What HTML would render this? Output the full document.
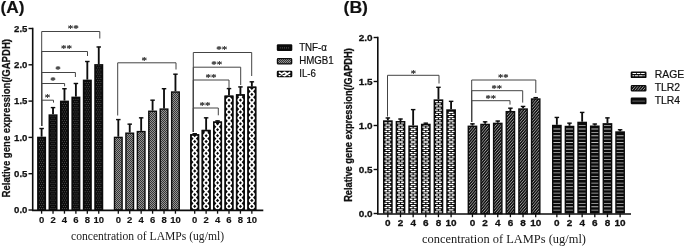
<!DOCTYPE html>
<html><head><meta charset="utf-8"><title>Figure</title>
<style>html,body{margin:0;padding:0;background:#fff}svg{display:block}</style></head>
<body><svg width="685" height="246" viewBox="0 0 685 246"><defs><pattern id="pTNF" x="37.10" y="210.00" width="11.43" height="4.2" patternUnits="userSpaceOnUse"><rect width="11.43" height="4.2" fill="#0b0b0b"/><rect x="1.95" y="0.5" width="0.9" height="0.9" fill="#6e6e6e"/><rect x="4.05" y="0.5" width="0.9" height="0.9" fill="#6e6e6e"/><rect x="6.15" y="0.5" width="0.9" height="0.9" fill="#6e6e6e"/><rect x="3.00" y="2.6" width="0.9" height="0.9" fill="#6e6e6e"/><rect x="5.10" y="2.6" width="0.9" height="0.9" fill="#6e6e6e"/></pattern>
<pattern id="pHMG" x="113.80" y="210.00" width="2" height="2" patternUnits="userSpaceOnUse"><rect width="2" height="2" fill="#b4b4b4"/><rect x="0" y="0" width="1" height="1" fill="#161616"/><rect x="1" y="1" width="1" height="1" fill="#161616"/></pattern>
<pattern id="pIL6" x="190.20" y="100.20" width="11.43" height="5.9" patternUnits="userSpaceOnUse"><rect width="11.43" height="5.9" fill="#0b0b0b"/><path d="M1.20 -0.30 L7.80 6.20 M7.80 -0.30 L1.20 6.20" stroke="#fff" stroke-width="1.9" fill="none"/><rect x="0" y="0" width="1.60" height="5.9" fill="#0b0b0b"/><rect x="7.40" y="0" width="4.5" height="5.9" fill="#0b0b0b"/></pattern>
<pattern id="pRAGE" x="383.00" y="212.60" width="12.65" height="8.3" patternUnits="userSpaceOnUse"><rect width="12.65" height="8.3" fill="#0b0b0b"/><rect x="2.85" y="0.40" width="4.0" height="1.3" fill="#fff"/><rect x="1.55" y="2.48" width="2.7" height="1.3" fill="#fff"/><rect x="5.45" y="2.48" width="2.7" height="1.3" fill="#fff"/><rect x="1.55" y="4.55" width="2.7" height="1.3" fill="#fff"/><rect x="5.45" y="4.55" width="2.7" height="1.3" fill="#fff"/><rect x="1.55" y="6.63" width="2.7" height="1.3" fill="#fff"/><rect x="5.45" y="6.63" width="2.7" height="1.3" fill="#fff"/><rect x="3.85" y="4.25" width="2.0" height="1.9" fill="#b0b0b0"/></pattern>
<pattern id="pTLR2" width="2.1" height="2.1" patternUnits="userSpaceOnUse" patternTransform="rotate(-50)"><rect width="2.1" height="2.1" fill="#0b0b0b"/><rect x="0" y="0" width="2.1" height="0.8" fill="#9c9c9c"/></pattern>
<pattern id="pTLR4" x="552.00" y="186.50" width="12.65" height="3.38" patternUnits="userSpaceOnUse"><rect width="12.65" height="3.38" fill="#0b0b0b"/><rect x="1.45" y="0" width="6.8" height="0.7" fill="#a8a8a8"/></pattern></defs>
<path d="M41.60 136.70 V128.21" stroke="#0d0d0d" stroke-width="1.85" fill="none"/><path d="M39.35 128.51 H43.85" stroke="#0d0d0d" stroke-width="1.4" fill="none"/>
<rect x="37.10" y="136.70" width="9.00" height="73.30" fill="#0b0b0b"/>
<path d="M39.50 209.00 V138.10" stroke="#5c5c5c" stroke-width="0.9" stroke-dasharray="0.9 3.3000000000000003" stroke-dashoffset="0.00" fill="none"/>
<path d="M41.60 209.00 V138.10" stroke="#5c5c5c" stroke-width="0.9" stroke-dasharray="0.9 3.3000000000000003" stroke-dashoffset="0.00" fill="none"/>
<path d="M43.70 209.00 V138.10" stroke="#5c5c5c" stroke-width="0.9" stroke-dasharray="0.9 3.3000000000000003" stroke-dashoffset="0.00" fill="none"/>
<path d="M40.55 206.90 V138.10" stroke="#5c5c5c" stroke-width="0.9" stroke-dasharray="0.9 3.3000000000000003" stroke-dashoffset="0.00" fill="none"/>
<path d="M42.65 206.90 V138.10" stroke="#5c5c5c" stroke-width="0.9" stroke-dasharray="0.9 3.3000000000000003" stroke-dashoffset="0.00" fill="none"/>
<path d="M41.60 210.00 V213.70" stroke="#0d0d0d" stroke-width="1.3"/>
<text transform="translate(41.60,222.9) scale(1,1)" font-size="9.5" font-weight="bold" font-family="Liberation Sans, Arial, sans-serif" text-anchor="middle" fill="#111" stroke="#111" stroke-width="0.15">0</text>
<path d="M53.03 114.34 V107.30" stroke="#0d0d0d" stroke-width="1.85" fill="none"/><path d="M50.78 107.60 H55.28" stroke="#0d0d0d" stroke-width="1.4" fill="none"/>
<rect x="48.53" y="114.34" width="9.00" height="95.66" fill="#0b0b0b"/>
<path d="M50.93 209.00 V115.74" stroke="#5c5c5c" stroke-width="0.9" stroke-dasharray="0.9 3.3000000000000003" stroke-dashoffset="0.00" fill="none"/>
<path d="M53.03 209.00 V115.74" stroke="#5c5c5c" stroke-width="0.9" stroke-dasharray="0.9 3.3000000000000003" stroke-dashoffset="0.00" fill="none"/>
<path d="M55.13 209.00 V115.74" stroke="#5c5c5c" stroke-width="0.9" stroke-dasharray="0.9 3.3000000000000003" stroke-dashoffset="0.00" fill="none"/>
<path d="M51.98 206.90 V115.74" stroke="#5c5c5c" stroke-width="0.9" stroke-dasharray="0.9 3.3000000000000003" stroke-dashoffset="0.00" fill="none"/>
<path d="M54.08 206.90 V115.74" stroke="#5c5c5c" stroke-width="0.9" stroke-dasharray="0.9 3.3000000000000003" stroke-dashoffset="0.00" fill="none"/>
<path d="M53.03 210.00 V213.70" stroke="#0d0d0d" stroke-width="1.3"/>
<text transform="translate(53.03,222.9) scale(1,1)" font-size="9.5" font-weight="bold" font-family="Liberation Sans, Arial, sans-serif" text-anchor="middle" fill="#111" stroke="#111" stroke-width="0.15">2</text>
<path d="M64.46 100.62 V88.42" stroke="#0d0d0d" stroke-width="1.85" fill="none"/><path d="M62.21 88.72 H66.71" stroke="#0d0d0d" stroke-width="1.4" fill="none"/>
<rect x="59.96" y="100.62" width="9.00" height="109.38" fill="#0b0b0b"/>
<path d="M62.36 209.00 V102.02" stroke="#5c5c5c" stroke-width="0.9" stroke-dasharray="0.9 3.3000000000000003" stroke-dashoffset="0.00" fill="none"/>
<path d="M64.46 209.00 V102.02" stroke="#5c5c5c" stroke-width="0.9" stroke-dasharray="0.9 3.3000000000000003" stroke-dashoffset="0.00" fill="none"/>
<path d="M66.56 209.00 V102.02" stroke="#5c5c5c" stroke-width="0.9" stroke-dasharray="0.9 3.3000000000000003" stroke-dashoffset="0.00" fill="none"/>
<path d="M63.41 206.90 V102.02" stroke="#5c5c5c" stroke-width="0.9" stroke-dasharray="0.9 3.3000000000000003" stroke-dashoffset="0.00" fill="none"/>
<path d="M65.51 206.90 V102.02" stroke="#5c5c5c" stroke-width="0.9" stroke-dasharray="0.9 3.3000000000000003" stroke-dashoffset="0.00" fill="none"/>
<path d="M64.46 210.00 V213.70" stroke="#0d0d0d" stroke-width="1.3"/>
<text transform="translate(64.46,222.9) scale(1,1)" font-size="9.5" font-weight="bold" font-family="Liberation Sans, Arial, sans-serif" text-anchor="middle" fill="#111" stroke="#111" stroke-width="0.15">4</text>
<path d="M75.89 96.62 V83.19" stroke="#0d0d0d" stroke-width="1.85" fill="none"/><path d="M73.64 83.49 H78.14" stroke="#0d0d0d" stroke-width="1.4" fill="none"/>
<rect x="71.39" y="96.62" width="9.00" height="113.38" fill="#0b0b0b"/>
<path d="M73.79 209.00 V98.02" stroke="#5c5c5c" stroke-width="0.9" stroke-dasharray="0.9 3.3000000000000003" stroke-dashoffset="0.00" fill="none"/>
<path d="M75.89 209.00 V98.02" stroke="#5c5c5c" stroke-width="0.9" stroke-dasharray="0.9 3.3000000000000003" stroke-dashoffset="0.00" fill="none"/>
<path d="M77.99 209.00 V98.02" stroke="#5c5c5c" stroke-width="0.9" stroke-dasharray="0.9 3.3000000000000003" stroke-dashoffset="0.00" fill="none"/>
<path d="M74.84 206.90 V98.02" stroke="#5c5c5c" stroke-width="0.9" stroke-dasharray="0.9 3.3000000000000003" stroke-dashoffset="0.00" fill="none"/>
<path d="M76.94 206.90 V98.02" stroke="#5c5c5c" stroke-width="0.9" stroke-dasharray="0.9 3.3000000000000003" stroke-dashoffset="0.00" fill="none"/>
<path d="M75.89 210.00 V213.70" stroke="#0d0d0d" stroke-width="1.3"/>
<text transform="translate(75.89,222.9) scale(1,1)" font-size="9.5" font-weight="bold" font-family="Liberation Sans, Arial, sans-serif" text-anchor="middle" fill="#111" stroke="#111" stroke-width="0.15">6</text>
<path d="M87.32 79.64 V61.20" stroke="#0d0d0d" stroke-width="1.85" fill="none"/><path d="M85.07 61.50 H89.57" stroke="#0d0d0d" stroke-width="1.4" fill="none"/>
<rect x="82.82" y="79.64" width="9.00" height="130.36" fill="#0b0b0b"/>
<path d="M85.22 209.00 V81.04" stroke="#5c5c5c" stroke-width="0.9" stroke-dasharray="0.9 3.3000000000000003" stroke-dashoffset="0.00" fill="none"/>
<path d="M87.32 209.00 V81.04" stroke="#5c5c5c" stroke-width="0.9" stroke-dasharray="0.9 3.3000000000000003" stroke-dashoffset="0.00" fill="none"/>
<path d="M89.42 209.00 V81.04" stroke="#5c5c5c" stroke-width="0.9" stroke-dasharray="0.9 3.3000000000000003" stroke-dashoffset="0.00" fill="none"/>
<path d="M86.27 206.90 V81.04" stroke="#5c5c5c" stroke-width="0.9" stroke-dasharray="0.9 3.3000000000000003" stroke-dashoffset="0.00" fill="none"/>
<path d="M88.37 206.90 V81.04" stroke="#5c5c5c" stroke-width="0.9" stroke-dasharray="0.9 3.3000000000000003" stroke-dashoffset="0.00" fill="none"/>
<path d="M87.32 210.00 V213.70" stroke="#0d0d0d" stroke-width="1.3"/>
<text transform="translate(87.32,222.9) scale(1,1)" font-size="9.5" font-weight="bold" font-family="Liberation Sans, Arial, sans-serif" text-anchor="middle" fill="#111" stroke="#111" stroke-width="0.15">8</text>
<path d="M98.75 64.10 V46.68" stroke="#0d0d0d" stroke-width="1.85" fill="none"/><path d="M96.50 46.98 H101.00" stroke="#0d0d0d" stroke-width="1.4" fill="none"/>
<rect x="94.25" y="64.10" width="9.00" height="145.90" fill="#0b0b0b"/>
<path d="M96.65 209.00 V65.50" stroke="#5c5c5c" stroke-width="0.9" stroke-dasharray="0.9 3.3000000000000003" stroke-dashoffset="0.00" fill="none"/>
<path d="M98.75 209.00 V65.50" stroke="#5c5c5c" stroke-width="0.9" stroke-dasharray="0.9 3.3000000000000003" stroke-dashoffset="0.00" fill="none"/>
<path d="M100.85 209.00 V65.50" stroke="#5c5c5c" stroke-width="0.9" stroke-dasharray="0.9 3.3000000000000003" stroke-dashoffset="0.00" fill="none"/>
<path d="M97.70 206.90 V65.50" stroke="#5c5c5c" stroke-width="0.9" stroke-dasharray="0.9 3.3000000000000003" stroke-dashoffset="0.00" fill="none"/>
<path d="M99.80 206.90 V65.50" stroke="#5c5c5c" stroke-width="0.9" stroke-dasharray="0.9 3.3000000000000003" stroke-dashoffset="0.00" fill="none"/>
<path d="M98.75 210.00 V213.70" stroke="#0d0d0d" stroke-width="1.3"/>
<text transform="translate(98.75,222.9) scale(1,1)" font-size="9.5" font-weight="bold" font-family="Liberation Sans, Arial, sans-serif" text-anchor="middle" fill="#111" stroke="#111" stroke-width="0.15">10</text>
<path d="M41.70 126.00 V31.50 H99.80 V38.50" stroke="#444" stroke-width="1" fill="none"/>
<text x="73.20" y="32.30" font-size="11" font-weight="normal" font-family="Liberation Serif, Times New Roman, serif" text-anchor="middle" fill="#333" stroke="#333" stroke-width="0.25">**</text>
<path d="M41.70 126.00 V51.50 H87.50 V56.00" stroke="#444" stroke-width="1" fill="none"/>
<text x="66.50" y="52.30" font-size="11" font-weight="normal" font-family="Liberation Serif, Times New Roman, serif" text-anchor="middle" fill="#333" stroke="#333" stroke-width="0.25">**</text>
<path d="M41.70 126.00 V72.50 H75.40 V77.00" stroke="#444" stroke-width="1" fill="none"/>
<text x="58.00" y="73.30" font-size="11" font-weight="normal" font-family="Liberation Serif, Times New Roman, serif" text-anchor="middle" fill="#333" stroke="#333" stroke-width="0.25">*</text>
<path d="M41.70 126.00 V83.50 H64.60 V86.30" stroke="#444" stroke-width="1" fill="none"/>
<text x="53.00" y="84.30" font-size="11" font-weight="normal" font-family="Liberation Serif, Times New Roman, serif" text-anchor="middle" fill="#333" stroke="#333" stroke-width="0.25">*</text>
<path d="M41.70 126.00 V100.20 H53.50 V102.60" stroke="#444" stroke-width="1" fill="none"/>
<text x="47.50" y="101.00" font-size="11" font-weight="normal" font-family="Liberation Serif, Times New Roman, serif" text-anchor="middle" fill="#333" stroke="#333" stroke-width="0.25">*</text>
<path d="M118.30 136.70 V119.28" stroke="#0d0d0d" stroke-width="1.85" fill="none"/><path d="M116.05 119.58 H120.55" stroke="#0d0d0d" stroke-width="1.4" fill="none"/>
<rect x="114.50" y="137.40" width="7.60" height="72.60" fill="url(#pHMG)" stroke="#0d0d0d" stroke-width="1.4"/>
<path d="M118.30 210.00 V213.70" stroke="#0d0d0d" stroke-width="1.3"/>
<text transform="translate(118.30,222.9) scale(1,1)" font-size="9.5" font-weight="bold" font-family="Liberation Sans, Arial, sans-serif" text-anchor="middle" fill="#111" stroke="#111" stroke-width="0.15">0</text>
<path d="M129.73 132.49 V123.85" stroke="#0d0d0d" stroke-width="1.85" fill="none"/><path d="M127.48 124.15 H131.98" stroke="#0d0d0d" stroke-width="1.4" fill="none"/>
<rect x="125.93" y="133.19" width="7.60" height="76.81" fill="url(#pHMG)" stroke="#0d0d0d" stroke-width="1.4"/>
<path d="M129.73 210.00 V213.70" stroke="#0d0d0d" stroke-width="1.3"/>
<text transform="translate(129.73,222.9) scale(1,1)" font-size="9.5" font-weight="bold" font-family="Liberation Sans, Arial, sans-serif" text-anchor="middle" fill="#111" stroke="#111" stroke-width="0.15">2</text>
<path d="M141.16 130.89 V117.53" stroke="#0d0d0d" stroke-width="1.85" fill="none"/><path d="M138.91 117.83 H143.41" stroke="#0d0d0d" stroke-width="1.4" fill="none"/>
<rect x="137.36" y="131.59" width="7.60" height="78.41" fill="url(#pHMG)" stroke="#0d0d0d" stroke-width="1.4"/>
<path d="M141.16 210.00 V213.70" stroke="#0d0d0d" stroke-width="1.3"/>
<text transform="translate(141.16,222.9) scale(1,1)" font-size="9.5" font-weight="bold" font-family="Liberation Sans, Arial, sans-serif" text-anchor="middle" fill="#111" stroke="#111" stroke-width="0.15">4</text>
<path d="M152.59 110.56 V99.89" stroke="#0d0d0d" stroke-width="1.85" fill="none"/><path d="M150.34 100.19 H154.84" stroke="#0d0d0d" stroke-width="1.4" fill="none"/>
<rect x="148.79" y="111.26" width="7.60" height="98.74" fill="url(#pHMG)" stroke="#0d0d0d" stroke-width="1.4"/>
<path d="M152.59 210.00 V213.70" stroke="#0d0d0d" stroke-width="1.3"/>
<text transform="translate(152.59,222.9) scale(1,1)" font-size="9.5" font-weight="bold" font-family="Liberation Sans, Arial, sans-serif" text-anchor="middle" fill="#111" stroke="#111" stroke-width="0.15">6</text>
<path d="M164.02 108.39 V88.42" stroke="#0d0d0d" stroke-width="1.85" fill="none"/><path d="M161.77 88.72 H166.27" stroke="#0d0d0d" stroke-width="1.4" fill="none"/>
<rect x="160.22" y="109.09" width="7.60" height="100.91" fill="url(#pHMG)" stroke="#0d0d0d" stroke-width="1.4"/>
<path d="M164.02 210.00 V213.70" stroke="#0d0d0d" stroke-width="1.3"/>
<text transform="translate(164.02,222.9) scale(1,1)" font-size="9.5" font-weight="bold" font-family="Liberation Sans, Arial, sans-serif" text-anchor="middle" fill="#111" stroke="#111" stroke-width="0.15">8</text>
<path d="M175.45 91.33 V73.90" stroke="#0d0d0d" stroke-width="1.85" fill="none"/><path d="M173.20 74.20 H177.70" stroke="#0d0d0d" stroke-width="1.4" fill="none"/>
<rect x="171.65" y="92.03" width="7.60" height="117.97" fill="url(#pHMG)" stroke="#0d0d0d" stroke-width="1.4"/>
<path d="M175.45 210.00 V213.70" stroke="#0d0d0d" stroke-width="1.3"/>
<text transform="translate(175.45,222.9) scale(1,1)" font-size="9.5" font-weight="bold" font-family="Liberation Sans, Arial, sans-serif" text-anchor="middle" fill="#111" stroke="#111" stroke-width="0.15">10</text>
<path d="M117.70 115.50 V62.80 H176.00 V69.50" stroke="#444" stroke-width="1" fill="none"/>
<text x="144.30" y="63.60" font-size="11" font-weight="normal" font-family="Liberation Serif, Times New Roman, serif" text-anchor="middle" fill="#333" stroke="#333" stroke-width="0.25">*</text>
<path d="M194.70 134.23 V133.43" stroke="#0d0d0d" stroke-width="1.85" fill="none"/><path d="M192.45 133.73 H196.95" stroke="#0d0d0d" stroke-width="1.4" fill="none"/>
<rect x="190.20" y="134.23" width="9.00" height="75.77" fill="#0b0b0b"/>
<path d="M194.09 210.00 L197.45 206.40 L191.95 200.50 L197.45 194.60 L191.95 188.70 L197.45 182.80 L191.95 176.90 L197.45 171.00 L191.95 165.10 L197.45 159.20 L191.95 153.30 L197.45 147.40 L191.95 141.50 L197.42 135.63" stroke="#fff" stroke-width="1.75" stroke-linejoin="round" fill="none"/>
<path d="M195.31 210.00 L191.95 206.40 L197.45 200.50 L191.95 194.60 L197.45 188.70 L191.95 182.80 L197.45 176.90 L191.95 171.00 L197.45 165.10 L191.95 159.20 L197.45 153.30 L191.95 147.40 L197.45 141.50 L191.98 135.63" stroke="#fff" stroke-width="1.75" stroke-linejoin="round" fill="none"/>
<rect x="190.95" y="134.93" width="7.50" height="75.07" fill="none" stroke="#0b0b0b" stroke-width="1.5"/>
<path d="M194.70 210.00 V213.70" stroke="#0d0d0d" stroke-width="1.3"/>
<text transform="translate(194.70,222.9) scale(1,1)" font-size="9.5" font-weight="bold" font-family="Liberation Sans, Arial, sans-serif" text-anchor="middle" fill="#111" stroke="#111" stroke-width="0.15">0</text>
<path d="M206.13 129.88 V117.53" stroke="#0d0d0d" stroke-width="1.85" fill="none"/><path d="M203.88 117.83 H208.38" stroke="#0d0d0d" stroke-width="1.4" fill="none"/>
<rect x="201.63" y="129.88" width="9.00" height="80.12" fill="#0b0b0b"/>
<path d="M205.52 210.00 L208.88 206.40 L203.38 200.50 L208.88 194.60 L203.38 188.70 L208.88 182.80 L203.38 176.90 L208.88 171.00 L203.38 165.10 L208.88 159.20 L203.38 153.30 L208.88 147.40 L203.38 141.50 L208.88 135.60 L204.85 131.28" stroke="#fff" stroke-width="1.75" stroke-linejoin="round" fill="none"/>
<path d="M206.74 210.00 L203.38 206.40 L208.88 200.50 L203.38 194.60 L208.88 188.70 L203.38 182.80 L208.88 176.90 L203.38 171.00 L208.88 165.10 L203.38 159.20 L208.88 153.30 L203.38 147.40 L208.88 141.50 L203.38 135.60 L207.41 131.28" stroke="#fff" stroke-width="1.75" stroke-linejoin="round" fill="none"/>
<rect x="202.38" y="130.58" width="7.50" height="79.42" fill="none" stroke="#0b0b0b" stroke-width="1.5"/>
<path d="M206.13 210.00 V213.70" stroke="#0d0d0d" stroke-width="1.3"/>
<text transform="translate(206.13,222.9) scale(1,1)" font-size="9.5" font-weight="bold" font-family="Liberation Sans, Arial, sans-serif" text-anchor="middle" fill="#111" stroke="#111" stroke-width="0.15">2</text>
<path d="M217.56 121.53 V120.58" stroke="#0d0d0d" stroke-width="1.85" fill="none"/><path d="M215.31 120.88 H219.81" stroke="#0d0d0d" stroke-width="1.4" fill="none"/>
<rect x="213.06" y="121.53" width="9.00" height="88.47" fill="#0b0b0b"/>
<path d="M216.95 210.00 L220.31 206.40 L214.81 200.50 L220.31 194.60 L214.81 188.70 L220.31 182.80 L214.81 176.90 L220.31 171.00 L214.81 165.10 L220.31 159.20 L214.81 153.30 L220.31 147.40 L214.81 141.50 L220.31 135.60 L214.81 129.70 L220.31 123.80 L219.50 122.93" stroke="#fff" stroke-width="1.75" stroke-linejoin="round" fill="none"/>
<path d="M218.17 210.00 L214.81 206.40 L220.31 200.50 L214.81 194.60 L220.31 188.70 L214.81 182.80 L220.31 176.90 L214.81 171.00 L220.31 165.10 L214.81 159.20 L220.31 153.30 L214.81 147.40 L220.31 141.50 L214.81 135.60 L220.31 129.70 L214.81 123.80 L215.62 122.93" stroke="#fff" stroke-width="1.75" stroke-linejoin="round" fill="none"/>
<rect x="213.81" y="122.23" width="7.50" height="87.77" fill="none" stroke="#0b0b0b" stroke-width="1.5"/>
<path d="M217.56 210.00 V213.70" stroke="#0d0d0d" stroke-width="1.3"/>
<text transform="translate(217.56,222.9) scale(1,1)" font-size="9.5" font-weight="bold" font-family="Liberation Sans, Arial, sans-serif" text-anchor="middle" fill="#111" stroke="#111" stroke-width="0.15">4</text>
<path d="M228.99 95.61 V88.28" stroke="#0d0d0d" stroke-width="1.85" fill="none"/><path d="M226.74 88.58 H231.24" stroke="#0d0d0d" stroke-width="1.4" fill="none"/>
<rect x="224.49" y="95.61" width="9.00" height="114.39" fill="#0b0b0b"/>
<path d="M228.38 210.00 L231.74 206.40 L226.24 200.50 L231.74 194.60 L226.24 188.70 L231.74 182.80 L226.24 176.90 L231.74 171.00 L226.24 165.10 L231.74 159.20 L226.24 153.30 L231.74 147.40 L226.24 141.50 L231.74 135.60 L226.24 129.70 L231.74 123.80 L226.24 117.90 L231.74 112.00 L226.24 106.10 L231.74 100.20 L228.76 97.01" stroke="#fff" stroke-width="1.75" stroke-linejoin="round" fill="none"/>
<path d="M229.60 210.00 L226.24 206.40 L231.74 200.50 L226.24 194.60 L231.74 188.70 L226.24 182.80 L231.74 176.90 L226.24 171.00 L231.74 165.10 L226.24 159.20 L231.74 153.30 L226.24 147.40 L231.74 141.50 L226.24 135.60 L231.74 129.70 L226.24 123.80 L231.74 117.90 L226.24 112.00 L231.74 106.10 L226.24 100.20 L229.22 97.01" stroke="#fff" stroke-width="1.75" stroke-linejoin="round" fill="none"/>
<rect x="225.24" y="96.31" width="7.50" height="113.69" fill="none" stroke="#0b0b0b" stroke-width="1.5"/>
<path d="M228.99 210.00 V213.70" stroke="#0d0d0d" stroke-width="1.3"/>
<text transform="translate(228.99,222.9) scale(1,1)" font-size="9.5" font-weight="bold" font-family="Liberation Sans, Arial, sans-serif" text-anchor="middle" fill="#111" stroke="#111" stroke-width="0.15">6</text>
<path d="M240.42 94.30 V86.61" stroke="#0d0d0d" stroke-width="1.85" fill="none"/><path d="M238.17 86.91 H242.67" stroke="#0d0d0d" stroke-width="1.4" fill="none"/>
<rect x="235.92" y="94.30" width="9.00" height="115.70" fill="#0b0b0b"/>
<path d="M239.81 210.00 L243.17 206.40 L237.67 200.50 L243.17 194.60 L237.67 188.70 L243.17 182.80 L237.67 176.90 L243.17 171.00 L237.67 165.10 L243.17 159.20 L237.67 153.30 L243.17 147.40 L237.67 141.50 L243.17 135.60 L237.67 129.70 L243.17 123.80 L237.67 117.90 L243.17 112.00 L237.67 106.10 L243.17 100.20 L238.98 95.70" stroke="#fff" stroke-width="1.75" stroke-linejoin="round" fill="none"/>
<path d="M241.03 210.00 L237.67 206.40 L243.17 200.50 L237.67 194.60 L243.17 188.70 L237.67 182.80 L243.17 176.90 L237.67 171.00 L243.17 165.10 L237.67 159.20 L243.17 153.30 L237.67 147.40 L243.17 141.50 L237.67 135.60 L243.17 129.70 L237.67 123.80 L243.17 117.90 L237.67 112.00 L243.17 106.10 L237.67 100.20 L241.86 95.70" stroke="#fff" stroke-width="1.75" stroke-linejoin="round" fill="none"/>
<rect x="236.67" y="95.00" width="7.50" height="115.00" fill="none" stroke="#0b0b0b" stroke-width="1.5"/>
<path d="M240.42 210.00 V213.70" stroke="#0d0d0d" stroke-width="1.3"/>
<text transform="translate(240.42,222.9) scale(1,1)" font-size="9.5" font-weight="bold" font-family="Liberation Sans, Arial, sans-serif" text-anchor="middle" fill="#111" stroke="#111" stroke-width="0.15">8</text>
<path d="M251.85 86.61 V81.52" stroke="#0d0d0d" stroke-width="1.85" fill="none"/><path d="M249.60 81.82 H254.10" stroke="#0d0d0d" stroke-width="1.4" fill="none"/>
<rect x="247.35" y="86.61" width="9.00" height="123.39" fill="#0b0b0b"/>
<path d="M251.24 210.00 L254.60 206.40 L249.10 200.50 L254.60 194.60 L249.10 188.70 L254.60 182.80 L249.10 176.90 L254.60 171.00 L249.10 165.10 L254.60 159.20 L249.10 153.30 L254.60 147.40 L249.10 141.50 L254.60 135.60 L249.10 129.70 L254.60 123.80 L249.10 117.90 L254.60 112.00 L249.10 106.10 L254.60 100.20 L249.10 94.30 L254.60 88.40 L254.23 88.01" stroke="#fff" stroke-width="1.75" stroke-linejoin="round" fill="none"/>
<path d="M252.46 210.00 L249.10 206.40 L254.60 200.50 L249.10 194.60 L254.60 188.70 L249.10 182.80 L254.60 176.90 L249.10 171.00 L254.60 165.10 L249.10 159.20 L254.60 153.30 L249.10 147.40 L254.60 141.50 L249.10 135.60 L254.60 129.70 L249.10 123.80 L254.60 117.90 L249.10 112.00 L254.60 106.10 L249.10 100.20 L254.60 94.30 L249.10 88.40 L249.47 88.01" stroke="#fff" stroke-width="1.75" stroke-linejoin="round" fill="none"/>
<rect x="248.10" y="87.31" width="7.50" height="122.69" fill="none" stroke="#0b0b0b" stroke-width="1.5"/>
<path d="M251.85 210.00 V213.70" stroke="#0d0d0d" stroke-width="1.3"/>
<text transform="translate(251.85,222.9) scale(1,1)" font-size="9.5" font-weight="bold" font-family="Liberation Sans, Arial, sans-serif" text-anchor="middle" fill="#111" stroke="#111" stroke-width="0.15">10</text>
<path d="M193.30 132.00 V52.50 H251.70 V76.00" stroke="#444" stroke-width="1" fill="none"/>
<text x="221.70" y="53.30" font-size="11" font-weight="normal" font-family="Liberation Serif, Times New Roman, serif" text-anchor="middle" fill="#333" stroke="#333" stroke-width="0.25">**</text>
<path d="M193.30 132.00 V67.20 H240.70 V85.00" stroke="#444" stroke-width="1" fill="none"/>
<text x="216.70" y="68.00" font-size="11" font-weight="normal" font-family="Liberation Serif, Times New Roman, serif" text-anchor="middle" fill="#333" stroke="#333" stroke-width="0.25">**</text>
<path d="M193.30 132.00 V80.00 H229.00 V88.30" stroke="#444" stroke-width="1" fill="none"/>
<text x="211.00" y="80.80" font-size="11" font-weight="normal" font-family="Liberation Serif, Times New Roman, serif" text-anchor="middle" fill="#333" stroke="#333" stroke-width="0.25">**</text>
<path d="M193.30 132.00 V108.00 H218.30 V115.30" stroke="#444" stroke-width="1" fill="none"/>
<text x="205.00" y="108.80" font-size="11" font-weight="normal" font-family="Liberation Serif, Times New Roman, serif" text-anchor="middle" fill="#333" stroke="#333" stroke-width="0.25">**</text>
<path d="M32.70 27.80 V210.40 H263.30" stroke="#0d0d0d" stroke-width="1.6" fill="none"/>
<path d="M28.50 210.00 H32.70" stroke="#0d0d0d" stroke-width="1.4"/>
<text x="27.40" y="213.20" font-size="9.6" font-weight="bold" font-family="Liberation Sans, Arial, sans-serif" text-anchor="end" fill="#111" stroke="#111" stroke-width="0.25">0.0</text>
<path d="M28.50 173.70 H32.70" stroke="#0d0d0d" stroke-width="1.4"/>
<text x="27.40" y="176.90" font-size="9.6" font-weight="bold" font-family="Liberation Sans, Arial, sans-serif" text-anchor="end" fill="#111" stroke="#111" stroke-width="0.25">0.5</text>
<path d="M28.50 137.40 H32.70" stroke="#0d0d0d" stroke-width="1.4"/>
<text x="27.40" y="140.60" font-size="9.6" font-weight="bold" font-family="Liberation Sans, Arial, sans-serif" text-anchor="end" fill="#111" stroke="#111" stroke-width="0.25">1.0</text>
<path d="M28.50 101.10 H32.70" stroke="#0d0d0d" stroke-width="1.4"/>
<text x="27.40" y="104.30" font-size="9.6" font-weight="bold" font-family="Liberation Sans, Arial, sans-serif" text-anchor="end" fill="#111" stroke="#111" stroke-width="0.25">1.5</text>
<path d="M28.50 64.80 H32.70" stroke="#0d0d0d" stroke-width="1.4"/>
<text x="27.40" y="68.00" font-size="9.6" font-weight="bold" font-family="Liberation Sans, Arial, sans-serif" text-anchor="end" fill="#111" stroke="#111" stroke-width="0.25">2.0</text>
<path d="M28.50 28.50 H32.70" stroke="#0d0d0d" stroke-width="1.4"/>
<text x="27.40" y="31.70" font-size="9.6" font-weight="bold" font-family="Liberation Sans, Arial, sans-serif" text-anchor="end" fill="#111" stroke="#111" stroke-width="0.25">2.5</text>
<text transform="translate(10.1,118.25) rotate(-90)" font-size="10.7" font-weight="bold" font-family="Liberation Sans, Arial, sans-serif" text-anchor="middle" fill="#111" stroke="#111" stroke-width="0.25" textLength="158.5" lengthAdjust="spacingAndGlyphs">Relative gene expression(/GAPDH)</text>
<text x="71" y="240.4" font-size="11.6" font-family="Liberation Serif, Times New Roman, serif" fill="#1a1a1a" textLength="153" lengthAdjust="spacingAndGlyphs">concentration of LAMPs (ug/ml)</text>
<rect x="276.80" y="44.30" width="15.50" height="6.60" rx="1.2" fill="#0b0b0b"/>
<path d="M279.80 47.90 H289.80" stroke="#777" stroke-width="0.9" stroke-dasharray="0.9 1.2" fill="none"/>
<text x="299.20" y="50.80" font-size="10.2" font-weight="normal" font-family="Liberation Sans, Arial, sans-serif" text-anchor="start" fill="#111" stroke="#111" stroke-width="0.2" textLength="27.69" lengthAdjust="spacingAndGlyphs">TNF-α</text>
<rect x="277.45" y="58.65" width="14.20" height="5.30" rx="0.8" fill="url(#pHMG)" stroke="#0d0d0d" stroke-width="1.3"/>
<text x="299.20" y="64.40" font-size="10.2" font-weight="normal" font-family="Liberation Sans, Arial, sans-serif" text-anchor="start" fill="#111" stroke="#111" stroke-width="0.2" textLength="34.49" lengthAdjust="spacingAndGlyphs">HMGB1</text>
<rect x="276.80" y="70.70" width="15.50" height="6.60" rx="1.2" fill="#0b0b0b"/>
<path d="M278.90 72.30 L284.55 75.70 L290.20 72.30 M278.90 75.70 L284.55 72.30 L290.20 75.70" stroke="#fff" stroke-width="1.8" stroke-linejoin="round" stroke-linecap="butt" fill="none"/>
<text x="299.20" y="77.30" font-size="10.2" font-weight="normal" font-family="Liberation Sans, Arial, sans-serif" text-anchor="start" fill="#111" stroke="#111" stroke-width="0.2" textLength="16.71" lengthAdjust="spacingAndGlyphs">IL-6</text>
<text x="0.5" y="13.1" font-size="16" font-weight="bold" font-family="Liberation Sans, Arial, sans-serif" fill="#111" stroke="#111" stroke-width="0.15" textLength="24.0" lengthAdjust="spacingAndGlyphs">(A)</text>
<path d="M387.85 120.31 V117.67" stroke="#0d0d0d" stroke-width="1.85" fill="none"/><path d="M385.60 117.97 H390.10" stroke="#0d0d0d" stroke-width="1.4" fill="none"/>
<rect x="383.00" y="120.31" width="9.70" height="93.19" fill="#0b0b0b"/>
<path d="M385.85 212.60 V121.71" stroke="#fff" stroke-width="2.75" stroke-dasharray="1.3 2.9400000000000004" stroke-dashoffset="0.00" fill="none"/>
<path d="M389.85 212.60 V121.71" stroke="#fff" stroke-width="2.75" stroke-dasharray="1.3 2.9400000000000004" stroke-dashoffset="0.00" fill="none"/>
<path d="M387.85 210.48 V121.71" stroke="#fff" stroke-width="4.6" stroke-dasharray="1.3 2.9400000000000004" stroke-dashoffset="0.00" fill="none"/>
<path d="M387.85 213.50 V217.20" stroke="#0d0d0d" stroke-width="1.3"/>
<text transform="translate(387.85,226.2) scale(1,1)" font-size="9.95" font-weight="bold" font-family="Liberation Sans, Arial, sans-serif" text-anchor="middle" fill="#111" stroke="#111" stroke-width="0.3">0</text>
<path d="M400.50 121.01 V118.72" stroke="#0d0d0d" stroke-width="1.85" fill="none"/><path d="M398.25 119.02 H402.75" stroke="#0d0d0d" stroke-width="1.4" fill="none"/>
<rect x="395.65" y="121.01" width="9.70" height="92.49" fill="#0b0b0b"/>
<path d="M398.50 212.60 V122.41" stroke="#fff" stroke-width="2.75" stroke-dasharray="1.3 2.9400000000000004" stroke-dashoffset="0.00" fill="none"/>
<path d="M402.50 212.60 V122.41" stroke="#fff" stroke-width="2.75" stroke-dasharray="1.3 2.9400000000000004" stroke-dashoffset="0.00" fill="none"/>
<path d="M400.50 210.48 V122.41" stroke="#fff" stroke-width="4.6" stroke-dasharray="1.3 2.9400000000000004" stroke-dashoffset="0.00" fill="none"/>
<path d="M400.50 213.50 V217.20" stroke="#0d0d0d" stroke-width="1.3"/>
<text transform="translate(400.50,226.2) scale(1,1)" font-size="9.95" font-weight="bold" font-family="Liberation Sans, Arial, sans-serif" text-anchor="middle" fill="#111" stroke="#111" stroke-width="0.3">2</text>
<path d="M413.15 125.50 V109.31" stroke="#0d0d0d" stroke-width="1.85" fill="none"/><path d="M410.90 109.61 H415.40" stroke="#0d0d0d" stroke-width="1.4" fill="none"/>
<rect x="408.30" y="125.50" width="9.70" height="88.00" fill="#0b0b0b"/>
<path d="M411.15 212.60 V126.90" stroke="#fff" stroke-width="2.75" stroke-dasharray="1.3 2.9400000000000004" stroke-dashoffset="0.00" fill="none"/>
<path d="M415.15 212.60 V126.90" stroke="#fff" stroke-width="2.75" stroke-dasharray="1.3 2.9400000000000004" stroke-dashoffset="0.00" fill="none"/>
<path d="M413.15 210.48 V126.90" stroke="#fff" stroke-width="4.6" stroke-dasharray="1.3 2.9400000000000004" stroke-dashoffset="0.00" fill="none"/>
<path d="M413.15 213.50 V217.20" stroke="#0d0d0d" stroke-width="1.3"/>
<text transform="translate(413.15,226.2) scale(1,1)" font-size="9.95" font-weight="bold" font-family="Liberation Sans, Arial, sans-serif" text-anchor="middle" fill="#111" stroke="#111" stroke-width="0.3">4</text>
<path d="M425.80 123.74 V122.86" stroke="#0d0d0d" stroke-width="1.85" fill="none"/><path d="M423.55 123.16 H428.05" stroke="#0d0d0d" stroke-width="1.4" fill="none"/>
<rect x="420.95" y="123.74" width="9.70" height="89.76" fill="#0b0b0b"/>
<path d="M423.80 212.60 V125.14" stroke="#fff" stroke-width="2.75" stroke-dasharray="1.3 2.9400000000000004" stroke-dashoffset="0.00" fill="none"/>
<path d="M427.80 212.60 V125.14" stroke="#fff" stroke-width="2.75" stroke-dasharray="1.3 2.9400000000000004" stroke-dashoffset="0.00" fill="none"/>
<path d="M425.80 210.48 V125.14" stroke="#fff" stroke-width="4.6" stroke-dasharray="1.3 2.9400000000000004" stroke-dashoffset="0.00" fill="none"/>
<path d="M425.80 213.50 V217.20" stroke="#0d0d0d" stroke-width="1.3"/>
<text transform="translate(425.80,226.2) scale(1,1)" font-size="9.95" font-weight="bold" font-family="Liberation Sans, Arial, sans-serif" text-anchor="middle" fill="#111" stroke="#111" stroke-width="0.3">6</text>
<path d="M438.45 99.36 V87.00" stroke="#0d0d0d" stroke-width="1.85" fill="none"/><path d="M436.20 87.30 H440.70" stroke="#0d0d0d" stroke-width="1.4" fill="none"/>
<rect x="433.60" y="99.36" width="9.70" height="114.14" fill="#0b0b0b"/>
<path d="M436.45 212.60 V100.76" stroke="#fff" stroke-width="2.75" stroke-dasharray="1.3 2.9400000000000004" stroke-dashoffset="0.00" fill="none"/>
<path d="M440.45 212.60 V100.76" stroke="#fff" stroke-width="2.75" stroke-dasharray="1.3 2.9400000000000004" stroke-dashoffset="0.00" fill="none"/>
<path d="M438.45 210.48 V100.76" stroke="#fff" stroke-width="4.6" stroke-dasharray="1.3 2.9400000000000004" stroke-dashoffset="0.00" fill="none"/>
<path d="M438.45 213.50 V217.20" stroke="#0d0d0d" stroke-width="1.3"/>
<text transform="translate(438.45,226.2) scale(1,1)" font-size="9.95" font-weight="bold" font-family="Liberation Sans, Arial, sans-serif" text-anchor="middle" fill="#111" stroke="#111" stroke-width="0.3">8</text>
<path d="M451.10 109.31 V101.04" stroke="#0d0d0d" stroke-width="1.85" fill="none"/><path d="M448.85 101.34 H453.35" stroke="#0d0d0d" stroke-width="1.4" fill="none"/>
<rect x="446.25" y="109.31" width="9.70" height="104.19" fill="#0b0b0b"/>
<path d="M449.10 212.60 V110.71" stroke="#fff" stroke-width="2.75" stroke-dasharray="1.3 2.9400000000000004" stroke-dashoffset="0.00" fill="none"/>
<path d="M453.10 212.60 V110.71" stroke="#fff" stroke-width="2.75" stroke-dasharray="1.3 2.9400000000000004" stroke-dashoffset="0.00" fill="none"/>
<path d="M451.10 210.48 V110.71" stroke="#fff" stroke-width="4.6" stroke-dasharray="1.3 2.9400000000000004" stroke-dashoffset="0.00" fill="none"/>
<path d="M451.10 213.50 V217.20" stroke="#0d0d0d" stroke-width="1.3"/>
<text transform="translate(451.10,226.2) scale(1,1)" font-size="9.95" font-weight="bold" font-family="Liberation Sans, Arial, sans-serif" text-anchor="middle" fill="#111" stroke="#111" stroke-width="0.3">10</text>
<path d="M387.50 116.50 V75.30 H439.00 V83.50" stroke="#444" stroke-width="1" fill="none"/>
<text x="413.30" y="76.60" font-size="10.5" font-weight="normal" font-family="Liberation Serif, Times New Roman, serif" text-anchor="middle" fill="#333" stroke="#333" stroke-width="0.25">*</text>
<path d="M472.45 125.59 V123.56" stroke="#0d0d0d" stroke-width="1.85" fill="none"/><path d="M470.20 123.86 H474.70" stroke="#0d0d0d" stroke-width="1.4" fill="none"/>
<rect x="468.30" y="126.29" width="8.30" height="87.21" fill="url(#pTLR2)" stroke="#0d0d0d" stroke-width="1.4"/>
<path d="M472.45 213.50 V217.20" stroke="#0d0d0d" stroke-width="1.3"/>
<text transform="translate(472.45,226.2) scale(1,1)" font-size="9.95" font-weight="bold" font-family="Liberation Sans, Arial, sans-serif" text-anchor="middle" fill="#111" stroke="#111" stroke-width="0.3">0</text>
<path d="M485.10 123.74 V121.54" stroke="#0d0d0d" stroke-width="1.85" fill="none"/><path d="M482.85 121.84 H487.35" stroke="#0d0d0d" stroke-width="1.4" fill="none"/>
<rect x="480.95" y="124.44" width="8.30" height="89.06" fill="url(#pTLR2)" stroke="#0d0d0d" stroke-width="1.4"/>
<path d="M485.10 213.50 V217.20" stroke="#0d0d0d" stroke-width="1.3"/>
<text transform="translate(485.10,226.2) scale(1,1)" font-size="9.95" font-weight="bold" font-family="Liberation Sans, Arial, sans-serif" text-anchor="middle" fill="#111" stroke="#111" stroke-width="0.3">2</text>
<path d="M497.75 122.68 V120.75" stroke="#0d0d0d" stroke-width="1.85" fill="none"/><path d="M495.50 121.05 H500.00" stroke="#0d0d0d" stroke-width="1.4" fill="none"/>
<rect x="493.60" y="123.38" width="8.30" height="90.12" fill="url(#pTLR2)" stroke="#0d0d0d" stroke-width="1.4"/>
<path d="M497.75 213.50 V217.20" stroke="#0d0d0d" stroke-width="1.3"/>
<text transform="translate(497.75,226.2) scale(1,1)" font-size="9.95" font-weight="bold" font-family="Liberation Sans, Arial, sans-serif" text-anchor="middle" fill="#111" stroke="#111" stroke-width="0.3">4</text>
<path d="M510.40 110.98 V107.90" stroke="#0d0d0d" stroke-width="1.85" fill="none"/><path d="M508.15 108.20 H512.65" stroke="#0d0d0d" stroke-width="1.4" fill="none"/>
<rect x="506.25" y="111.68" width="8.30" height="101.82" fill="url(#pTLR2)" stroke="#0d0d0d" stroke-width="1.4"/>
<path d="M510.40 213.50 V217.20" stroke="#0d0d0d" stroke-width="1.3"/>
<text transform="translate(510.40,226.2) scale(1,1)" font-size="9.95" font-weight="bold" font-family="Liberation Sans, Arial, sans-serif" text-anchor="middle" fill="#111" stroke="#111" stroke-width="0.3">6</text>
<path d="M523.05 108.34 V106.14" stroke="#0d0d0d" stroke-width="1.85" fill="none"/><path d="M520.80 106.44 H525.30" stroke="#0d0d0d" stroke-width="1.4" fill="none"/>
<rect x="518.90" y="109.04" width="8.30" height="104.46" fill="url(#pTLR2)" stroke="#0d0d0d" stroke-width="1.4"/>
<path d="M523.05 213.50 V217.20" stroke="#0d0d0d" stroke-width="1.3"/>
<text transform="translate(523.05,226.2) scale(1,1)" font-size="9.95" font-weight="bold" font-family="Liberation Sans, Arial, sans-serif" text-anchor="middle" fill="#111" stroke="#111" stroke-width="0.3">8</text>
<path d="M535.70 98.31 V97.34" stroke="#0d0d0d" stroke-width="1.85" fill="none"/><path d="M533.45 97.64 H537.95" stroke="#0d0d0d" stroke-width="1.4" fill="none"/>
<rect x="531.55" y="99.01" width="8.30" height="114.49" fill="url(#pTLR2)" stroke="#0d0d0d" stroke-width="1.4"/>
<path d="M535.70 213.50 V217.20" stroke="#0d0d0d" stroke-width="1.3"/>
<text transform="translate(535.70,226.2) scale(1,1)" font-size="9.95" font-weight="bold" font-family="Liberation Sans, Arial, sans-serif" text-anchor="middle" fill="#111" stroke="#111" stroke-width="0.3">10</text>
<path d="M471.70 122.00 V80.00 H535.80 V93.00" stroke="#444" stroke-width="1" fill="none"/>
<text x="503.30" y="81.30" font-size="10.5" font-weight="normal" font-family="Liberation Serif, Times New Roman, serif" text-anchor="middle" fill="#333" stroke="#333" stroke-width="0.25">**</text>
<path d="M471.70 122.00 V90.70 H522.70 V102.60" stroke="#444" stroke-width="1" fill="none"/>
<text x="496.70" y="92.00" font-size="10.5" font-weight="normal" font-family="Liberation Serif, Times New Roman, serif" text-anchor="middle" fill="#333" stroke="#333" stroke-width="0.25">**</text>
<path d="M471.70 122.00 V100.70 H510.00 V104.60" stroke="#444" stroke-width="1" fill="none"/>
<text x="490.70" y="102.00" font-size="10.5" font-weight="normal" font-family="Liberation Serif, Times New Roman, serif" text-anchor="middle" fill="#333" stroke="#333" stroke-width="0.25">**</text>
<path d="M556.85 124.80 V117.14" stroke="#0d0d0d" stroke-width="1.85" fill="none"/><path d="M554.60 117.44 H559.10" stroke="#0d0d0d" stroke-width="1.4" fill="none"/>
<rect x="552.00" y="124.80" width="9.70" height="88.70" fill="#0b0b0b"/>
<path d="M556.85 210.51 V126.20" stroke="#bdbdbd" stroke-width="6.9" stroke-dasharray="0.8 2.58" stroke-dashoffset="0.00" fill="none"/>
<path d="M556.85 213.50 V217.20" stroke="#0d0d0d" stroke-width="1.3"/>
<text transform="translate(556.85,226.2) scale(1,1)" font-size="9.95" font-weight="bold" font-family="Liberation Sans, Arial, sans-serif" text-anchor="middle" fill="#111" stroke="#111" stroke-width="0.3">0</text>
<path d="M569.50 125.76 V122.86" stroke="#0d0d0d" stroke-width="1.85" fill="none"/><path d="M567.25 123.16 H571.75" stroke="#0d0d0d" stroke-width="1.4" fill="none"/>
<rect x="564.65" y="125.76" width="9.70" height="87.74" fill="#0b0b0b"/>
<path d="M569.50 210.51 V127.16" stroke="#bdbdbd" stroke-width="6.9" stroke-dasharray="0.8 2.58" stroke-dashoffset="0.00" fill="none"/>
<path d="M569.50 213.50 V217.20" stroke="#0d0d0d" stroke-width="1.3"/>
<text transform="translate(569.50,226.2) scale(1,1)" font-size="9.95" font-weight="bold" font-family="Liberation Sans, Arial, sans-serif" text-anchor="middle" fill="#111" stroke="#111" stroke-width="0.3">2</text>
<path d="M582.15 121.72 V112.12" stroke="#0d0d0d" stroke-width="1.85" fill="none"/><path d="M579.90 112.42 H584.40" stroke="#0d0d0d" stroke-width="1.4" fill="none"/>
<rect x="577.30" y="121.72" width="9.70" height="91.78" fill="#0b0b0b"/>
<path d="M582.15 210.51 V123.12" stroke="#bdbdbd" stroke-width="6.9" stroke-dasharray="0.8 2.58" stroke-dashoffset="0.00" fill="none"/>
<path d="M582.15 213.50 V217.20" stroke="#0d0d0d" stroke-width="1.3"/>
<text transform="translate(582.15,226.2) scale(1,1)" font-size="9.95" font-weight="bold" font-family="Liberation Sans, Arial, sans-serif" text-anchor="middle" fill="#111" stroke="#111" stroke-width="0.3">4</text>
<path d="M594.80 125.50 V123.74" stroke="#0d0d0d" stroke-width="1.85" fill="none"/><path d="M592.55 124.04 H597.05" stroke="#0d0d0d" stroke-width="1.4" fill="none"/>
<rect x="589.95" y="125.50" width="9.70" height="88.00" fill="#0b0b0b"/>
<path d="M594.80 210.51 V126.90" stroke="#bdbdbd" stroke-width="6.9" stroke-dasharray="0.8 2.58" stroke-dashoffset="0.00" fill="none"/>
<path d="M594.80 213.50 V217.20" stroke="#0d0d0d" stroke-width="1.3"/>
<text transform="translate(594.80,226.2) scale(1,1)" font-size="9.95" font-weight="bold" font-family="Liberation Sans, Arial, sans-serif" text-anchor="middle" fill="#111" stroke="#111" stroke-width="0.3">6</text>
<path d="M607.45 123.12 V117.58" stroke="#0d0d0d" stroke-width="1.85" fill="none"/><path d="M605.20 117.88 H609.70" stroke="#0d0d0d" stroke-width="1.4" fill="none"/>
<rect x="602.60" y="123.12" width="9.70" height="90.38" fill="#0b0b0b"/>
<path d="M607.45 210.51 V124.52" stroke="#bdbdbd" stroke-width="6.9" stroke-dasharray="0.8 2.58" stroke-dashoffset="0.00" fill="none"/>
<path d="M607.45 213.50 V217.20" stroke="#0d0d0d" stroke-width="1.3"/>
<text transform="translate(607.45,226.2) scale(1,1)" font-size="9.95" font-weight="bold" font-family="Liberation Sans, Arial, sans-serif" text-anchor="middle" fill="#111" stroke="#111" stroke-width="0.3">8</text>
<path d="M620.10 131.31 V129.46" stroke="#0d0d0d" stroke-width="1.85" fill="none"/><path d="M617.85 129.76 H622.35" stroke="#0d0d0d" stroke-width="1.4" fill="none"/>
<rect x="615.25" y="131.31" width="9.70" height="82.19" fill="#0b0b0b"/>
<path d="M620.10 210.51 V132.71" stroke="#bdbdbd" stroke-width="6.9" stroke-dasharray="0.8 2.58" stroke-dashoffset="0.00" fill="none"/>
<path d="M620.10 213.50 V217.20" stroke="#0d0d0d" stroke-width="1.3"/>
<text transform="translate(620.10,226.2) scale(1,1)" font-size="9.95" font-weight="bold" font-family="Liberation Sans, Arial, sans-serif" text-anchor="middle" fill="#111" stroke="#111" stroke-width="0.3">10</text>
<path d="M377.80 36.80 V214.00 H631.00" stroke="#0d0d0d" stroke-width="1.6" fill="none"/>
<path d="M373.60 213.50 H377.80" stroke="#0d0d0d" stroke-width="1.4"/>
<text x="372.60" y="216.80" font-size="9.95" font-weight="bold" font-family="Liberation Sans, Arial, sans-serif" text-anchor="end" fill="#111" stroke="#111" stroke-width="0.3">0.0</text>
<path d="M373.60 169.50 H377.80" stroke="#0d0d0d" stroke-width="1.4"/>
<text x="372.60" y="172.80" font-size="9.95" font-weight="bold" font-family="Liberation Sans, Arial, sans-serif" text-anchor="end" fill="#111" stroke="#111" stroke-width="0.3">0.5</text>
<path d="M373.60 125.50 H377.80" stroke="#0d0d0d" stroke-width="1.4"/>
<text x="372.60" y="128.80" font-size="9.95" font-weight="bold" font-family="Liberation Sans, Arial, sans-serif" text-anchor="end" fill="#111" stroke="#111" stroke-width="0.3">1.0</text>
<path d="M373.60 81.50 H377.80" stroke="#0d0d0d" stroke-width="1.4"/>
<text x="372.60" y="84.80" font-size="9.95" font-weight="bold" font-family="Liberation Sans, Arial, sans-serif" text-anchor="end" fill="#111" stroke="#111" stroke-width="0.3">1.5</text>
<path d="M373.60 37.50 H377.80" stroke="#0d0d0d" stroke-width="1.4"/>
<text x="372.60" y="40.80" font-size="9.95" font-weight="bold" font-family="Liberation Sans, Arial, sans-serif" text-anchor="end" fill="#111" stroke="#111" stroke-width="0.3">2.0</text>
<text transform="translate(351.8,125) rotate(-90)" font-size="11.3" font-weight="bold" font-family="Liberation Sans, Arial, sans-serif" text-anchor="middle" fill="#111" stroke="#111" stroke-width="0.3" textLength="153.7" lengthAdjust="spacingAndGlyphs">Relative gene expression(/GAPDH)</text>
<text x="422" y="243.0" font-size="12.4" font-family="Liberation Serif, Times New Roman, serif" fill="#1a1a1a" textLength="164" lengthAdjust="spacingAndGlyphs">concentration of LAMPs (ug/ml)</text>
<rect x="630.70" y="71.50" width="15.80" height="6.60" rx="1.2" fill="#0b0b0b"/>
<path d="M632.50 73.50 H644.70" stroke="#fff" stroke-width="1.1" stroke-dasharray="3.6 0.7" fill="none"/>
<path d="M632.50 75.70 H644.70" stroke="#fff" stroke-width="1.1" stroke-dasharray="1.6 0.7 3.6 0.7 3.6 0.7" fill="none"/>
<text x="654.70" y="78.00" font-size="10.4" font-weight="normal" font-family="Liberation Sans, Arial, sans-serif" text-anchor="start" fill="#111" stroke="#111" stroke-width="0.2" textLength="29.47" lengthAdjust="spacingAndGlyphs">RAGE</text>
<rect x="631.35" y="85.65" width="14.50" height="5.30" rx="0.8" fill="url(#pTLR2)" stroke="#0d0d0d" stroke-width="1.3"/>
<text x="654.70" y="91.40" font-size="10.4" font-weight="normal" font-family="Liberation Sans, Arial, sans-serif" text-anchor="start" fill="#111" stroke="#111" stroke-width="0.2" textLength="25.43" lengthAdjust="spacingAndGlyphs">TLR2</text>
<rect x="630.70" y="97.60" width="15.80" height="6.60" rx="1.2" fill="#0b0b0b"/>
<path d="M632.30 101.10 H644.90" stroke="#8a8a8a" stroke-width="0.7" fill="none"/>
<text x="654.70" y="104.20" font-size="10.4" font-weight="normal" font-family="Liberation Sans, Arial, sans-serif" text-anchor="start" fill="#111" stroke="#111" stroke-width="0.2" textLength="25.43" lengthAdjust="spacingAndGlyphs">TLR4</text>
<text x="343.5" y="13.1" font-size="16" font-weight="bold" font-family="Liberation Sans, Arial, sans-serif" fill="#111" stroke="#111" stroke-width="0.15" textLength="24.5" lengthAdjust="spacingAndGlyphs">(B)</text></svg></body></html>
